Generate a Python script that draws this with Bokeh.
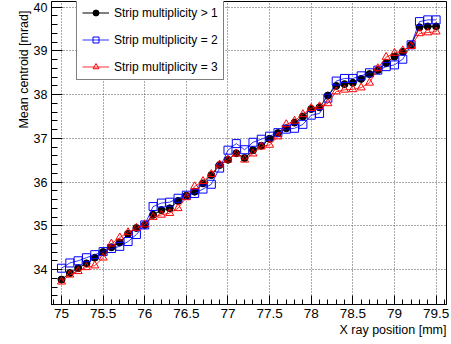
from bokeh.plotting import figure
from bokeh.models import (Range1d, SingleIntervalTicker, CustomJSTickFormatter,
                          Legend, LegendItem, Title)
from bokeh.embed import file_html
from bokeh.resources import INLINE

# X ray beam positions [mm]
x_pos = [75.0, 75.1, 75.2, 75.3, 75.4, 75.5, 75.6, 75.7, 75.8, 75.9,
         76.0, 76.1, 76.2, 76.3, 76.4, 76.5, 76.6, 76.7, 76.8, 76.9,
         77.0, 77.1, 77.2, 77.3, 77.4, 77.5, 77.6, 77.7, 77.8, 77.9,
         78.0, 78.1, 78.2, 78.3, 78.4, 78.5, 78.6, 78.7, 78.8, 78.9,
         79.0, 79.1, 79.2, 79.3, 79.4, 79.5]

# Mean centroid [mrad], strip multiplicity > 1
mult_gt1 = [33.77, 33.92, 34.03, 34.14, 34.27, 34.40, 34.51, 34.62, 34.82, 34.95,
            35.02, 35.25, 35.36, 35.40, 35.57, 35.69, 35.78, 35.97, 36.16, 36.39,
            36.51, 36.66, 36.55, 36.73, 36.83, 36.99, 37.12, 37.23, 37.36, 37.50,
            37.67, 37.71, 37.98, 38.20, 38.24, 38.27, 38.36, 38.47, 38.56, 38.72,
            38.87, 38.98, 39.14, 39.54, 39.56, 39.56]

# Mean centroid [mrad], strip multiplicity = 2
mult_eq2 = [34.03, 34.15, 34.20, 34.27, 34.34, 34.41, 34.48, 34.53, 34.64, 34.80,
            35.02, 35.44, 35.52, 35.54, 35.63, 35.70, 35.74, 35.84, 35.95, 36.32,
            36.73, 36.88, 36.74, 36.91, 36.98, 37.05, 37.13, 37.21, 37.23, 37.32,
            37.53, 37.57, 37.92, 38.31, 38.37, 38.37, 38.43, 38.50, 38.56, 38.64,
            38.68, 38.81, 39.14, 39.67, 39.71, 39.71]

# Mean centroid [mrad], strip multiplicity = 3
mult_eq3 = [33.72, 33.88, 33.96, 34.05, 34.09, 34.27, 34.59, 34.73, 34.85, 34.95,
            35.03, 35.20, 35.25, 35.29, 35.40, 35.65, 35.90, 36.02, 36.18, 36.40,
            36.51, 36.65, 36.51, 36.65, 36.81, 36.85, 37.04, 37.32, 37.40, 37.55,
            37.69, 37.73, 37.80, 38.07, 38.11, 38.12, 38.16, 38.27, 38.60, 38.86,
            38.95, 39.01, 39.11, 39.40, 39.42, 39.44]

series_labels = ["Strip multiplicity > 1", "Strip multiplicity = 2", "Strip multiplicity = 3"]
x_title = "X ray position [mm]"
y_title = "Mean centroid [mrad]"

FONT = "Liberation Sans"

p = figure(width=451, height=344, x_range=Range1d(74.88, 79.625), y_range=Range1d(33.2, 40.13),
           output_backend="svg", toolbar_location=None,
           min_border_left=51, min_border_right=5, min_border_top=1, min_border_bottom=40)
p.background_fill_color = "white"
p.border_fill_color = "white"
p.outline_line_color = "black"
p.outline_line_width = 1

# axes with ticks pointing into the frame
xa = p.xaxis[0]
xa.ticker = SingleIntervalTicker(interval=0.5, num_minor_ticks=5)
xa.formatter = CustomJSTickFormatter(code="return String(Math.round(tick*10)/10);")
xa.major_tick_in = 9
xa.major_tick_out = 0
xa.minor_tick_in = 5
xa.minor_tick_out = 0
xa.major_label_text_font = FONT
xa.major_label_text_font_size = "13.5px"
xa.major_label_text_color = "black"
xa.major_label_standoff = 4
xa.axis_line_color = "black"
xa.major_tick_line_color = "black"
xa.minor_tick_line_color = "black"

ya = p.yaxis[0]
ya.ticker = SingleIntervalTicker(interval=1, num_minor_ticks=5)
ya.major_tick_in = 11
ya.major_tick_out = 0
ya.minor_tick_in = 6
ya.minor_tick_out = 0
ya.major_label_text_font = FONT
ya.major_label_text_font_size = "12.5px"
ya.major_label_text_color = "black"
ya.major_label_standoff = 4
ya.axis_line_color = "black"
ya.major_tick_line_color = "black"
ya.minor_tick_line_color = "black"

for g in (p.xgrid[0], p.ygrid[0]):
    g.grid_line_color = "#555555"
    g.grid_line_dash = "1 2"
    g.grid_line_width = 1

# graphs: black dots, blue open squares, red open triangles
l1 = p.line(x_pos, mult_gt1, line_color="black", line_width=1)
s1 = p.scatter(x_pos, mult_gt1, marker="circle", size=7, fill_color="black", line_color="black")
l2 = p.line(x_pos, mult_eq2, line_color="#0000ff", line_width=1, line_alpha=0.8)
s2 = p.scatter(x_pos, mult_eq2, marker="square", size=8, fill_color=None, line_color="#0000ff")
l3 = p.line(x_pos, mult_eq3, line_color="#ff0000", line_width=1, line_alpha=0.8)
s3 = p.scatter(x_pos, mult_eq3, marker="triangle", size=8, fill_color=None, line_color="#ff0000")

legend = Legend(items=[LegendItem(label=series_labels[0], renderers=[l1, s1]),
                       LegendItem(label=series_labels[1], renderers=[l2, s2]),
                       LegendItem(label=series_labels[2], renderers=[l3, s3])],
                location=(25, 224), orientation="vertical",
                padding=5, spacing=12, margin=0,
                glyph_width=27, glyph_height=15, label_height=15, label_standoff=5,
                label_text_font=FONT, label_text_font_size="12px", label_text_color="black",
                border_line_color="black", border_line_width=1,
                background_fill_color="white", background_fill_alpha=1)
p.add_layout(legend)

# axis titles placed at the far end of each axis
p.add_layout(Title(text=x_title, align="right", offset=0, standoff=0,
                   text_font=FONT, text_font_size="12.5px", text_font_style="normal",
                   text_color="black"), "below")
p.add_layout(Title(text=y_title, align="right", offset=9, standoff=0,
                   text_font=FONT, text_font_size="12.5px", text_font_style="normal",
                   text_color="black"), "left")

open("out.html", "w").write(file_html(p, INLINE))
